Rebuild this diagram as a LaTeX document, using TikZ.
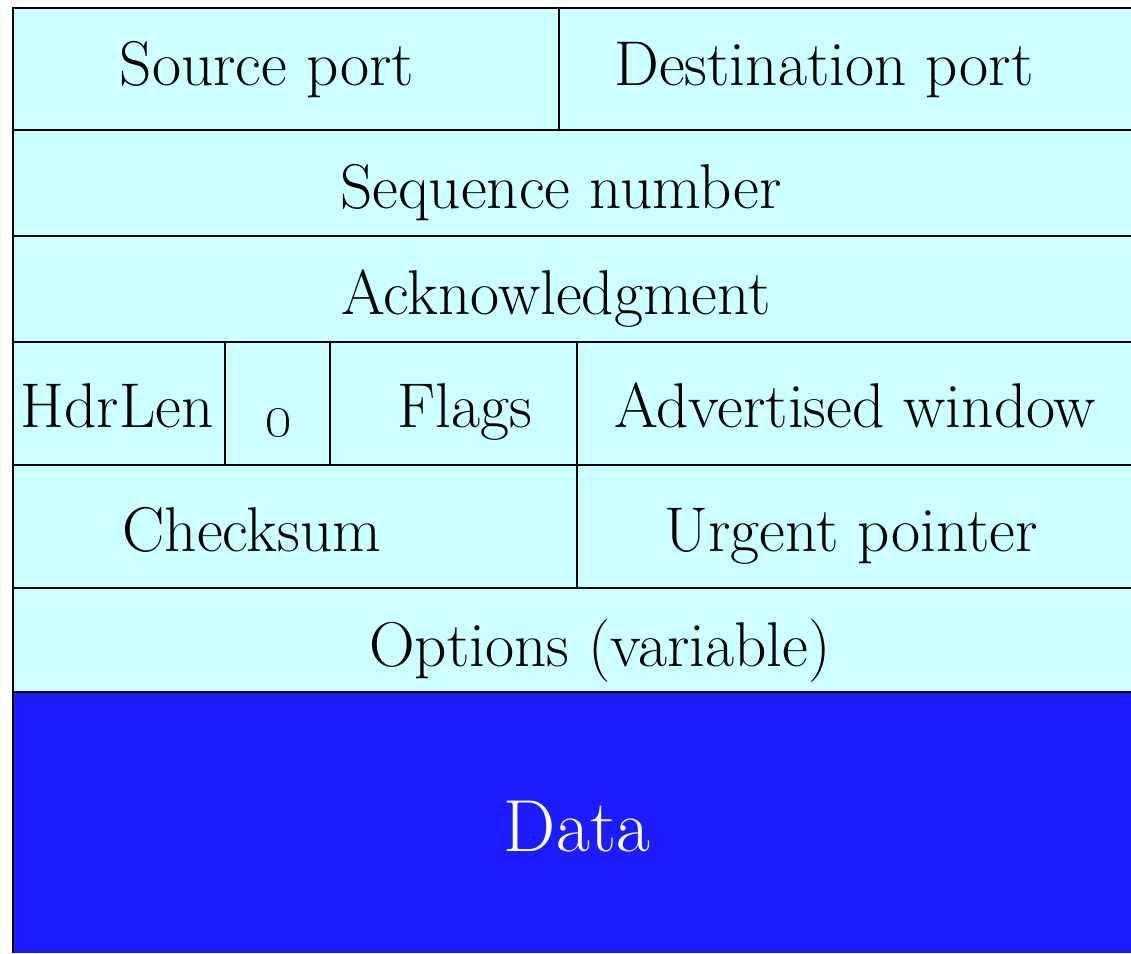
\documentclass[tikz,border=0pt]{standalone}
\definecolor{hdrcyan}{RGB}{204,255,255}
\definecolor{datablue}{RGB}{28,28,255}
\begin{document}
\begin{tikzpicture}[x=0.02cm,y=-0.02cm]
  \tikzset{every node/.style={inner sep=0pt,anchor=base,font=\fontsize{36}{42}\selectfont},
           rule/.style={line width=1.1pt}}
  \useasboundingbox (0,0) rectangle (1131,953);
  % header and data areas
  \fill[hdrcyan] (13,8) rectangle (1131,692);
  \fill[datablue] (13,692) rectangle (1131,953);
  % outline and row lines
  \draw[rule] (1131,8) -- (13,8) -- (13,953);
  \foreach \y in {130,236,342,465,588,692}
    \draw[rule] (13,\y) -- (1131,\y);
  % column lines
  \draw[rule] (559,8) -- (559,130);
  \draw[rule] (225,342) -- (225,465);
  \draw[rule] (330,342) -- (330,465);
  \draw[rule] (577,342) -- (577,588);
  % field labels
  \node (srcport) at (267,86) {Source port};
  \node (dstport) at (824,86) {Destination port};
  \node (seqnum) at (561,208) {Sequence number};
  \node (acknum) at (556,314) {Acknowledgment};
  \node (hdrlen) at (117,427) {HdrLen};
  \node[font=\fontsize{42}{48}\selectfont] (zero) at (279,436) {\oldstylenums{0}};
  \node (flags) at (465,427) {Flags};
  \node (advwin) at (855,427) {Advertised window};
  \node (chksum) at (252,551) {Checksum};
  \node (urgptr) at (851,551) {Urgent pointer};
  \node (opts) at (600,666) {Options (variable)};
  \node[text=white,font=\fontsize{42}{48}\selectfont] (data) at (577,851) {Data};
\end{tikzpicture}
\end{document}
